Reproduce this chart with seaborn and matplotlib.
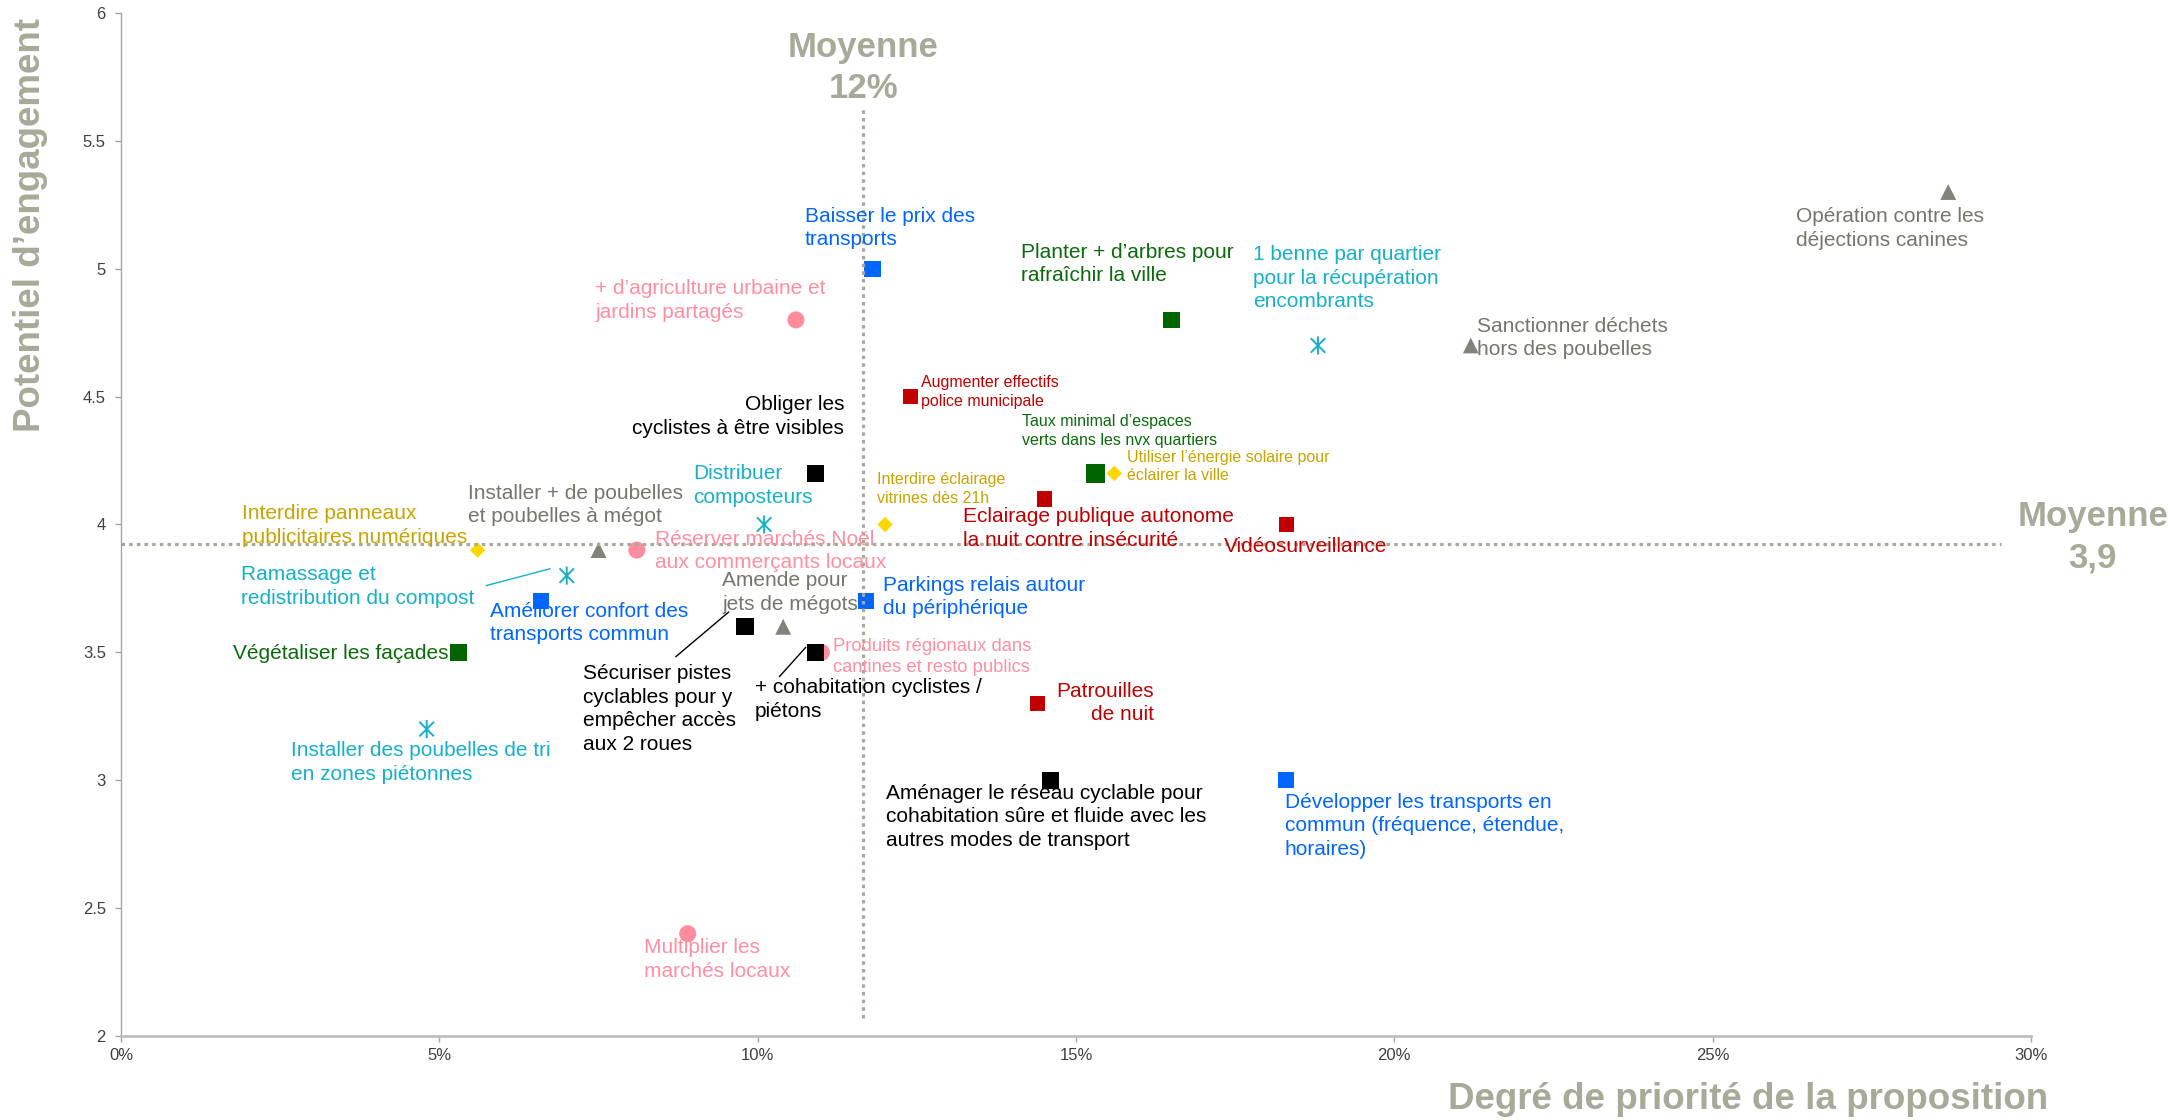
import matplotlib
matplotlib.use("Agg")
import matplotlib.pyplot as plt
from matplotlib.path import Path
import seaborn as sns
import pandas as pd

# --- valeurs ---
propositions = [
    "Baisser le prix des\ntransports",
    "Améliorer confort des\ntransports commun",
    "Parkings relais autour\ndu périphérique",
    "Développer les transports en\ncommun (fréquence, étendue,\nhoraires)",
    "+ d’agriculture urbaine et\njardins partagés",
    "Réserver marchés Noël\naux commerçants locaux",
    "Produits régionaux dans\ncantines et resto publics",
    "Multiplier les\nmarchés locaux",
    "Planter + d’arbres pour\nrafraîchir la ville",
    "Taux minimal d’espaces\nverts dans les nvx quartiers",
    "Végétaliser les façades",
    "1 benne par quartier\npour la récupération\nencombrants",
    "Distribuer\ncomposteurs",
    "Ramassage et\nredistribution du compost",
    "Installer des poubelles de tri\nen zones piétonnes",
    "Opération contre les\ndéjections canines",
    "Sanctionner déchets\nhors des poubelles",
    "Installer + de poubelles\net poubelles à mégot",
    "Amende pour\njets de mégots",
    "Utiliser l’énergie solaire pour\néclairer la ville",
    "Interdire éclairage\nvitrines dès 21h",
    "Interdire panneaux\npublicitaires numériques",
    "Augmenter effectifs\npolice municipale",
    "Eclairage publique autonome\nla nuit contre insécurité",
    "Vidéosurveillance",
    "Patrouilles\nde nuit",
    "Obliger les\ncyclistes à être visibles",
    "Sécuriser pistes\ncyclables pour y\nempêcher accès\naux 2 roues",
    "+ cohabitation cyclistes /\npiétons",
    "Aménager le réseau cyclable pour\ncohabitation sûre et fluide avec les\nautres modes de transport",
]
priorite = [11.8, 6.6, 11.7, 18.3,
            10.6, 8.1, 11.0, 8.9,
            16.5, 15.3, 5.3,
            18.8, 10.1, 7.0, 4.8,
            28.7, 21.2, 7.5, 10.4,
            15.6, 12.0, 5.6,
            12.4, 14.5, 18.3, 14.4,
            10.9, 9.8, 10.9, 14.6]
engagement = [5.0, 3.7, 3.7, 3.0,
              4.8, 3.9, 3.5, 2.4,
              4.8, 4.2, 3.5,
              4.7, 4.0, 3.8, 3.2,
              5.3, 4.7, 3.9, 3.6,
              4.2, 4.0, 3.9,
              4.5, 4.1, 4.0, 3.3,
              4.2, 3.6, 3.5, 3.0]
themes = (["transports"] * 4 + ["alimentation"] * 4 + ["vegetal"] * 3
          + ["dechets"] * 4 + ["proprete"] * 4 + ["energie"] * 3
          + ["securite"] * 4 + ["velo"] * 4)

moyenne_x = 11.66   # "Moyenne 12%"
moyenne_y = 3.925   # "Moyenne 3,9"

df = pd.DataFrame({"proposition": propositions, "priorite": priorite,
                   "engagement": engagement, "theme": themes})

# --- style ---
asterisque = Path([(0, -1), (0, 1), (-0.8, -0.8), (0.8, 0.8), (-0.8, 0.8), (0.8, -0.8)],
                  [Path.MOVETO, Path.LINETO, Path.MOVETO, Path.LINETO, Path.MOVETO, Path.LINETO])
style_theme = {
    "transports":   dict(marker="s", color="#0066FF", s=140, texte="#0066FF"),
    "alimentation": dict(marker="o", color="#FF8C9E", s=150, texte="#FF8FA0"),
    "vegetal":      dict(marker="s", color="#006400", s=140, texte="#0B6B0B"),
    "dechets":      dict(marker=asterisque, color="#17B0C9", s=170, texte="#17B0C9"),
    "proprete":     dict(marker="^", color="#82827A", s=130, texte="#76766C"),
    "energie":      dict(marker="D", color="#FFD700", s=62, texte="#C8A400"),
    "securite":     dict(marker="s", color="#C00000", s=120, texte="#C00000"),
    "velo":         dict(marker="s", color="#000000", s=150, texte="#000000"),
}
taille_speciale = {"Taux minimal d’espaces\nverts dans les nvx quartiers": 185}

# placement des étiquettes (x %, y, alignement, taille)
etiquettes = {
    "Baisser le prix des\ntransports": (10.74, 5.16, "left", 15),
    "Améliorer confort des\ntransports commun": (5.79, 3.614, "left", 15),
    "Parkings relais autour\ndu périphérique": (11.96, 3.717, "left", 15),
    "Développer les transports en\ncommun (fréquence, étendue,\nhoraires)": (18.28, 2.822, "left", 15),
    "+ d’agriculture urbaine et\njardins partagés": (7.445, 4.876, "left", 15),
    "Réserver marchés Noël\naux commerçants locaux": (8.38, 3.897, "left", 15),
    "Produits régionaux dans\ncantines et resto publics": (11.18, 3.481, "left", 13.2),
    "Multiplier les\nmarchés locaux": (8.21, 2.299, "left", 15),
    "Planter + d’arbres pour\nrafraîchir la ville": (14.14, 5.018, "left", 15),
    "Taux minimal d’espaces\nverts dans les nvx quartiers": (14.15, 4.366, "left", 11.5),
    "Végétaliser les façades": (5.15, 3.497, "right", 15),
    "1 benne par quartier\npour la récupération\nencombrants": (17.78, 4.963, "left", 15),
    "Distribuer\ncomposteurs": (8.985, 4.152, "left", 15),
    "Ramassage et\nredistribution du compost": (1.88, 3.758, "left", 15),
    "Installer des poubelles de tri\nen zones piétonnes": (2.67, 3.07, "left", 15),
    "Opération contre les\ndéjections canines": (26.31, 5.157, "left", 15),
    "Sanctionner déchets\nhors des poubelles": (21.30, 4.73, "left", 15),
    "Installer + de poubelles\net poubelles à mégot": (5.45, 4.077, "left", 15),
    "Amende pour\njets de mégots": (9.44, 3.734, "left", 15),
    "Utiliser l’énergie solaire pour\néclairer la ville": (15.80, 4.227, "left", 11.5),
    "Interdire éclairage\nvitrines dès 21h": (11.87, 4.139, "left", 11.5),
    "Interdire panneaux\npublicitaires numériques": (1.90, 3.996, "left", 15),
    "Augmenter effectifs\npolice municipale": (12.57, 4.517, "left", 11.5),
    "Eclairage publique autonome\nla nuit contre insécurité": (13.23, 3.985, "left", 15),
    "Vidéosurveillance": (17.33, 3.913, "left", 15),
    "Patrouilles\nde nuit": (16.23, 3.303, "right", 15),
    "Obliger les\ncyclistes à être visibles": (11.36, 4.422, "right", 15),
    "Sécuriser pistes\ncyclables pour y\nempêcher accès\naux 2 roues": (7.25, 3.279, "left", 15),
    "+ cohabitation cyclistes /\npiétons": (9.95, 3.315, "left", 15),
    "Aménager le réseau cyclable pour\ncohabitation sûre et fluide avec les\nautres modes de transport": (12.02, 2.858, "left", 15),
}
# traits de rappel (x0, x1, y0, y1, couleur)
traits = [
    (5.733, 6.738, 3.761, 3.827, "#17B0C9"),
    (8.713, 9.545, 3.483, 3.658, "#000000"),
    (10.34, 10.755, 3.405, 3.52, "#000000"),
]

gris_moy = "#A8A998"

sns.set_theme(style="white")
plt.rcParams["font.family"] = ["Liberation Sans", "DejaVu Sans"]

fig = plt.figure(figsize=(21.82, 11.2), dpi=100)
ax = fig.add_axes([0.0555, 0.075, 0.8753, 0.9134])

for th, st in style_theme.items():
    sub = df[df["theme"] == th]
    tailles = [taille_speciale.get(p, st["s"]) for p in sub["proposition"]]
    sns.scatterplot(data=sub, x="priorite", y="engagement", ax=ax, marker=st["marker"],
                    color=st["color"], s=tailles, linewidth=0, zorder=3, legend=False)
    if th == "dechets":
        coll = ax.collections[-1]
        coll.set_facecolor("none")
        coll.set_edgecolor(st["color"])
        coll.set_linewidth(1.4)

# lignes de moyenne
ax.plot([moyenne_x, moyenne_x], [2.07, 5.625], color=gris_moy, lw=2.3,
        linestyle=(0, (1.1, 1.3)), zorder=4)
ax.plot([0, 29.53], [moyenne_y, moyenne_y], color=gris_moy, lw=2.3,
        linestyle=(0, (1.1, 1.3)), zorder=4)

for x0, x1, y0, y1, c in traits:
    ax.plot([x0, x1], [y0, y1], color=c, lw=1.0, zorder=4)

for _, r in df.iterrows():
    x, y, ha, fs = etiquettes[r["proposition"]]
    ax.text(x, y, r["proposition"], ha=ha, va="center", fontsize=fs,
            color=style_theme[r["theme"]]["texte"], linespacing=1.3, zorder=5)

ax.text(moyenne_x, 5.785, "Moyenne\n12%", ha="center", va="center", fontsize=25,
        fontweight="bold", color=gris_moy, linespacing=1.3)
ax.text(30.97, 3.95, "Moyenne\n3,9", ha="center", va="center", fontsize=25,
        fontweight="bold", color=gris_moy, linespacing=1.3, clip_on=False)

ax.set_xlim(0, 30)
ax.set_ylim(2, 6)
ax.set_xticks([0, 5, 10, 15, 20, 25, 30])
ax.set_xticklabels([f"{v}%" for v in [0, 5, 10, 15, 20, 25, 30]])
ax.set_yticks([2, 2.5, 3, 3.5, 4, 4.5, 5, 5.5, 6])
ax.set_yticklabels(["2", "2.5", "3", "3.5", "4", "4.5", "5", "5.5", "6"])
ax.tick_params(axis="both", bottom=True, left=True, length=4, width=1,
               color="#A6A6A6", labelcolor="#404040", labelsize=12)
ax.tick_params(axis="y", pad=7)
ax.tick_params(axis="x", pad=5)

sns.despine(ax=ax)
ax.spines["left"].set_color("#A6A6A6")
ax.spines["left"].set_linewidth(1.0)
ax.spines["bottom"].set_color("#BFBFBF")
ax.spines["bottom"].set_linewidth(2.0)

ax.set_xlabel("Degré de priorité de la proposition", fontsize=26.5, fontweight="bold",
              color=gris_moy, va="center")
ax.xaxis.set_label_coords(0.852, -0.0616)
ax.set_ylabel("Potentiel d’engagement", fontsize=26.5, fontweight="bold",
              color=gris_moy, va="center", ha="center")
ax.yaxis.set_label_coords(-0.0473, 0.793)

fig.savefig("out.png", dpi=100)
